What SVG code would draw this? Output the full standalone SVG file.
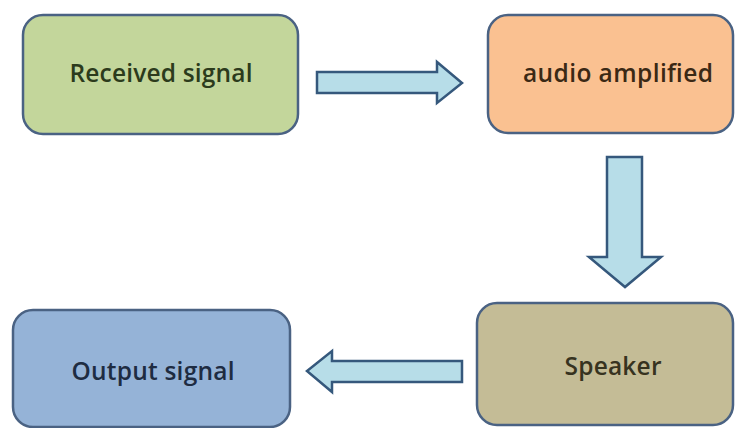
<svg xmlns="http://www.w3.org/2000/svg" width="736" height="428" viewBox="0 0 736 428">
<style>
.box{stroke:#4a6283;stroke-width:2.5}
.lbl{font-family:"Open Sans","Liberation Sans",sans-serif;font-size:24.5px;font-weight:600;text-anchor:middle}
.arr{fill:#b7dde8;stroke:#35587c;stroke-width:2.5;stroke-linejoin:miter}
</style>
<rect width="736" height="428" fill="#ffffff"/>
<g id="received">
<rect class="box" x="23" y="15" width="275" height="119" rx="20" fill="#c3d69b"/>
<text class="lbl" x="161" y="82" fill="#2c3b1c" textLength="183">Received signal</text>
</g>
<g id="amplified">
<rect class="box" x="488" y="15" width="245" height="118" rx="20" fill="#fac191"/>
<text class="lbl" x="618" y="82" fill="#3b2915" textLength="190">audio amplified</text>
</g>
<g id="speaker">
<rect class="box" x="477" y="303" width="256" height="122" rx="20" fill="#c4bc96"/>
<text class="lbl" x="613" y="375" fill="#37331f" textLength="97">Speaker</text>
</g>
<g id="output">
<rect class="box" x="13" y="310" width="277" height="117" rx="20" fill="#95b3d7"/>
<text class="lbl" x="153" y="380" fill="#1e2c42" textLength="163">Output signal</text>
</g>
<g id="connectors">
<polygon class="arr" points="317,72 437,72 437,62 462,83 437,103 437,93 317,93"/>
<polygon class="arr" points="607,157 642,157 642,257 661,257 625,287 589,257 607,257"/>
<polygon class="arr" points="462,361 332,361 332,351 307,371 332,392 332,382 462,382"/>
</g>
</svg>
